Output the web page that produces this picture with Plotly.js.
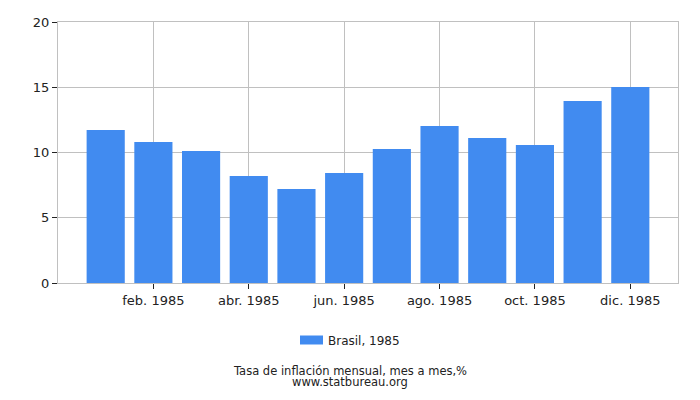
<!DOCTYPE html>
<html>
<head>
<meta charset="utf-8">
<script src="https://cdn.plot.ly/plotly-3.0.1.min.js"></script>
<style>html,body{margin:0;padding:0;background:#fff;}#chart{width:700px;height:400px;}</style>
</head>
<body>
<div id="chart"></div>
<script>
var months = ["ene. 1985","feb. 1985","mar. 1985","abr. 1985","may. 1985","jun. 1985","jul. 1985","ago. 1985","sep. 1985","oct. 1985","nov. 1985","dic. 1985"];
var values = [11.72, 10.80, 10.11, 8.20, 7.20, 8.43, 10.27, 12.03, 11.11, 10.57, 13.95, 15.02];
var tickMonths = ["feb. 1985","abr. 1985","jun. 1985","ago. 1985","oct. 1985","dic. 1985"];
var seriesName = "Brasil, 1985";
var yTicks = [0, 5, 10, 15, 20];
var titleText = "Tasa de inflación mensual, mes a mes,%";
var sourceText = "www.statbureau.org";

var barColor = "#418bf0";

var trace = {
  type: "bar",
  x: months,
  y: values,
  name: seriesName,
  marker: {color: barColor},
  width: 0.8,
  hoverinfo: "x+y",
  showlegend: false
};

// plot area: x 58..678 px, y 22..283 px
function px(p) { return (p - 58) / 620; }
function py(p) { return (283 - p) / 261; }

var layout = {
  width: 700, height: 400,
  margin: {l: 58, r: 22, t: 22, b: 117},
  paper_bgcolor: "#fff", plot_bgcolor: "#fff",
  font: {family: "DejaVu Sans, sans-serif", size: 13, color: "#222"},
  showlegend: false,
  xaxis: {
    type: "category",
    range: [-1, 12],
    tickmode: "array", tickvals: tickMonths, ticktext: tickMonths,
    showgrid: true, gridcolor: "#c0c0c0", gridwidth: 1,
    ticks: "outside", ticklen: 5, tickcolor: "#222",
    showline: true, linecolor: "#c0c0c0", mirror: true,
    tickfont: {size: 13, color: "#222"},
    fixedrange: true
  },
  yaxis: {
    range: [0, 20],
    tickmode: "array", tickvals: yTicks,
    showgrid: true, gridcolor: "#c0c0c0", gridwidth: 1,
    ticks: "outside", ticklen: 5, tickcolor: "#222",
    showline: true, linecolor: "#c0c0c0", mirror: true,
    zeroline: false,
    tickfont: {size: 13, color: "#222"},
    fixedrange: true
  },
  shapes: [
    {type: "rect", xref: "paper", yref: "paper",
     x0: px(300), x1: px(323), y0: py(344.5), y1: py(335.5),
     fillcolor: barColor, line: {width: 0}}
  ],
  annotations: [
    {text: seriesName, xref: "paper", yref: "paper", x: px(326), y: py(340.5), xanchor: "left", yanchor: "middle",
     showarrow: false, font: {size: 12, color: "#222"}},
    {text: titleText, xref: "paper", yref: "paper", x: px(350), y: py(370.5), xanchor: "center", yanchor: "middle",
     showarrow: false, font: {size: 11.5, color: "#222"}},
    {text: sourceText, xref: "paper", yref: "paper", x: px(350), y: py(381.5), xanchor: "center", yanchor: "middle",
     showarrow: false, font: {size: 11.5, color: "#222"}}
  ]
};

Plotly.newPlot("chart", [trace], layout, {displayModeBar: false, staticPlot: true});
</script>
</body>
</html>
